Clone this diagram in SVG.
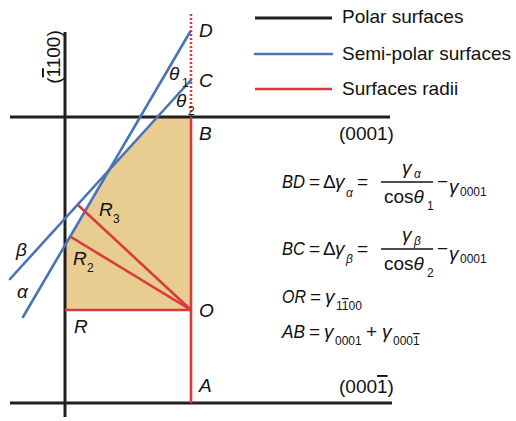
<svg xmlns="http://www.w3.org/2000/svg" width="516" height="421" viewBox="0 0 516 421">
<style>
.k{stroke:#231f20;stroke-width:3;fill:none}
.b{stroke:#4a74b6;stroke-width:2.6;fill:none;stroke-linecap:round}
.r{stroke:#d93a3c;stroke-width:2.6;fill:none}
.t{font-family:"Liberation Sans",Arial,sans-serif;font-size:19px;fill:#111}
.i{font-style:italic}
.s{font-size:12px}
.o{text-decoration:overline}
</style>
<rect width="516" height="421" fill="#fff"/>
<g id="fill">
<polygon points="157.3,117 191,117 191,310 65,310 65,245.3 109.1,170" fill="#e8cc90"/>
</g>
<g id="connectors">
<line class="k" x1="65" y1="32" x2="65" y2="417"/>
<line class="k" x1="10" y1="117" x2="390" y2="117"/>
<line class="k" x1="10" y1="403" x2="392" y2="403"/>
<line class="b" x1="190" y1="32" x2="23" y2="317"/>
<line class="b" x1="191" y1="80" x2="10" y2="279"/>
<line class="r" x1="191" y1="14" x2="191" y2="117" stroke-dasharray="2 2" stroke-width="2.4"/>
<line class="r" x1="191" y1="117" x2="191" y2="403"/>
<line class="r" x1="65" y1="310" x2="191" y2="310"/>
<line class="r" x1="78" y1="205" x2="191" y2="310"/>
<line class="r" x1="71" y1="237" x2="191" y2="310"/>
</g>
<g id="legend">
<line class="k" x1="255" y1="18" x2="332" y2="18"/>
<line class="b" x1="255" y1="54" x2="332" y2="54" stroke-linecap="butt"/>
<line class="r" x1="255" y1="89" x2="332" y2="89"/>
<text class="t" x="342" y="23">Polar surfaces</text>
<text class="t" x="342" y="60">Semi-polar surfaces</text>
<text class="t" x="342" y="95">Surfaces radii</text>
</g>
<g id="labels" class="t">
<text class="i" x="199" y="37">D</text>
<text class="i" x="199" y="87">C</text>
<text class="i" x="199" y="140">B</text>
<text class="i" x="199" y="317">O</text>
<text class="i" x="199" y="392">A</text>
<text class="i" x="74" y="333">R</text>
<text class="i" x="169" y="80">θ</text><text class="s" x="182" y="87">1</text>
<text class="i" x="176" y="107">θ</text><text class="s" x="188" y="115">2</text>
<text class="i" x="16" y="256">β</text>
<text class="i" x="17" y="298">α</text>
<text class="i" x="99" y="216">R</text><text class="s" x="113" y="223">3</text>
<text class="i" x="73" y="265">R</text><text class="s" x="87" y="272">2</text>
<text x="339" y="140">(0001)</text>
<text x="339" y="393">(000<tspan class="o">1</tspan>)</text>
<text x="60" y="57" text-anchor="middle" transform="rotate(-90 60 57)">(<tspan class="o">1</tspan>100)</text>
</g>
<g id="equations" class="t">
<text class="i" x="282" y="188" textLength="23" lengthAdjust="spacingAndGlyphs">BD</text>
<text x="309" y="188">=</text>
<text x="323" y="188">Δ</text>
<text class="i" x="335" y="188">γ</text><text class="s i" x="346" y="197">α</text>
<text x="357" y="188">=</text>
<line x1="381" y1="182" x2="433" y2="182" stroke="#111" stroke-width="1.3"/>
<text class="i" x="402" y="174">γ</text><text class="s i" x="414" y="178">α</text>
<text x="384" y="203">cos<tspan class="i">θ</tspan></text><text class="s" x="427" y="210">1</text>
<text x="437" y="188">−</text>
<text class="i" x="449" y="193">γ</text><text class="s" x="460" y="196">0001</text>

<text class="i" x="282" y="255" textLength="23" lengthAdjust="spacingAndGlyphs">BC</text>
<text x="309" y="255">=</text>
<text x="323" y="255">Δ</text>
<text class="i" x="335" y="255">γ</text><text class="s i" x="346" y="263">β</text>
<text x="357" y="255">=</text>
<line x1="381" y1="249" x2="433" y2="249" stroke="#111" stroke-width="1.3"/>
<text class="i" x="402" y="241">γ</text><text class="s i" x="414" y="245">β</text>
<text x="384" y="270">cos<tspan class="i">θ</tspan></text><text class="s" x="427" y="277">2</text>
<text x="437" y="255">−</text>
<text class="i" x="449" y="260">γ</text><text class="s" x="460" y="263">0001</text>

<text class="i" x="282" y="303" textLength="24" lengthAdjust="spacingAndGlyphs">OR</text>
<text x="310" y="303">=</text>
<text class="i" x="325" y="303">γ</text><text class="s" x="336" y="310"><tspan>1</tspan><tspan class="o">1</tspan>00</text>

<text class="i" x="282" y="338" textLength="23" lengthAdjust="spacingAndGlyphs">AB</text>
<text x="309" y="338">=</text>
<text class="i" x="324" y="338">γ</text><text class="s" x="335" y="345">0001</text>
<text x="366" y="338">+</text>
<text class="i" x="382" y="338">γ</text><text class="s" x="393" y="345">000<tspan class="o">1</tspan></text>
</g>
</svg>
